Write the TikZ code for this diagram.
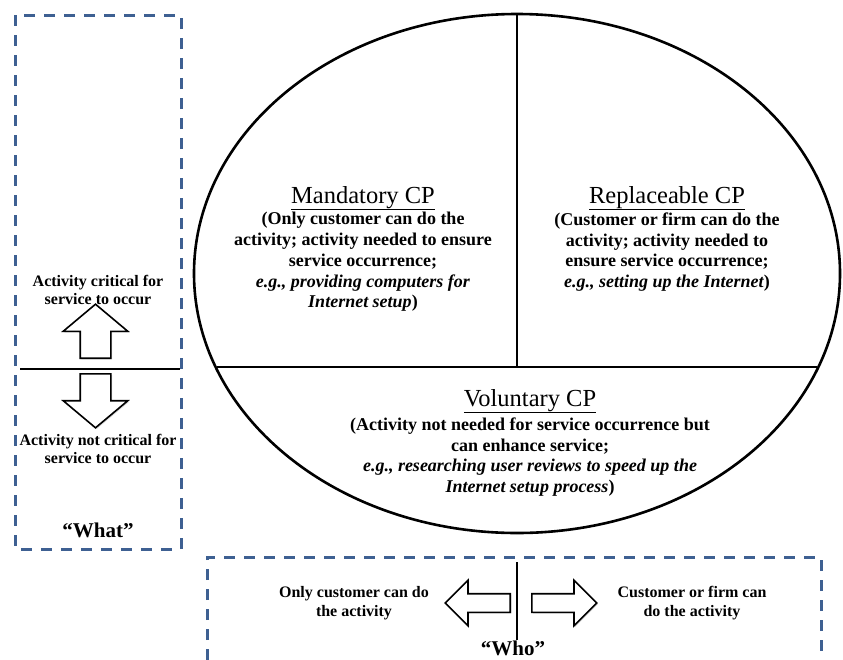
\documentclass[tikz,border=0pt]{standalone}
\usepackage{fontspec}
\setmainfont{Liberation Serif}
\usetikzlibrary{shapes.arrows,shadows,positioning}
\definecolor{dashblue}{RGB}{62,96,146}

\begin{document}
\begin{tikzpicture}[
  x=1pt, y=-1pt,
  framebox/.style={draw=dashblue, line width=3pt, dash pattern=on 11pt off 9pt},
  divider/.style={line width=2.6pt},
  thinline/.style={line width=1.1pt},
  cptitle/.style={font=\fontsize{24.5}{28}\selectfont, inner sep=0pt, anchor=base},
  cpbody/.style={font=\fontsize{18}{20.7}\selectfont\bfseries, align=center, inner sep=1pt},
  sidetext/.style={font=\fontsize{16}{17.5}\selectfont\bfseries, align=center, inner sep=1pt},
  whotext/.style={sidetext, font=\fontsize{16}{19}\selectfont\bfseries},
  dimlabel/.style={font=\fontsize{21}{24}\selectfont\bfseries, inner sep=1pt},
  blockarrow/.style={single arrow, draw=black, fill=white, line width=1.6pt, inner xsep=0pt, anchor=tail,
    drop shadow={opacity=0.3, shadow xshift=1.2pt, shadow yshift=-1.2pt}},
  bigarrow/.style={blockarrow, minimum height=54pt, inner ysep=14.5pt, single arrow head extend=17pt, single arrow tip angle=100},
  smallarrow/.style={blockarrow, minimum height=65pt, inner ysep=8.5pt, single arrow head extend=13.5pt, single arrow tip angle=90}
]
\path[use as bounding box] (0,0) rectangle (843,659);
\clip (0,0) rectangle (843,659);

% "What" frame
\draw[framebox] (15,15) rectangle (181,549);
\coordinate (whatW) at (20,369);
\coordinate (whatE) at (180,369);
\draw[thinline] (whatW) -- (whatE);
\node[bigarrow, rotate=90] (upArr) at (95.5,359) {};
\node[bigarrow, rotate=-90] (downArr) at (95.5,373) {};
\node[sidetext] (critText) at (98,290) {Activity critical for\\service to occur};
\node[sidetext] (notCritText) at (98,449) {Activity not critical for\\service to occur};
\node[dimlabel] (whatLabel) at (98,530) {“What”};

% ellipse of the three CP types
\draw[divider, fill=white, drop shadow={opacity=0.25, shadow xshift=1pt, shadow yshift=-1pt}] (517,273.5) ellipse [x radius=323, y radius=259.5];
\coordinate (ellTop) at (517,14);
\coordinate (chordMid) at (517,367);
\coordinate (chordW) at (217,367);
\coordinate (chordE) at (817,367);
\draw[divider] (ellTop) -- (chordMid);
\draw[divider] (chordW) -- (chordE);

\node[cptitle] (mandTitle) at (363,203) {\underline{Mandatory CP}};
\node[cpbody] (mandBody) at (363,262) {(Only customer can do the\\activity; activity needed to ensure\\service occurrence;\\\textit{e.g., providing computers for}\\\textit{Internet setup})};

\node[cptitle] (replTitle) at (667,203) {\underline{Replaceable CP}};
\node[cpbody] (replBody) at (667,252) {(Customer or firm can do the\\activity; activity needed to\\ensure service occurrence;\\\textit{e.g., setting up the Internet})};

\node[cptitle] (volTitle) at (530,406) {\underline{Voluntary CP}};
\node[cpbody] (volBody) at (530,457) {(Activity not needed for service occurrence but\\can enhance service;\\\textit{e.g., researching user reviews to speed up the}\\\textit{Internet setup process})};

% "Who" frame
\draw[framebox] (207,680) |- (821,557) -- (821,680);
\coordinate (whoTop) at (517,562);
\coordinate (whoBot) at (517,640);
\draw[thinline] (whoTop) -- (whoBot);
\node[smallarrow, rotate=180] (leftArr) at (511,603) {};
\node[smallarrow] (rightArr) at (531,603) {};
\node[whotext] (onlyText) at (354,603) {Only customer can do\\the activity};
\node[whotext] (firmText) at (692,603) {Customer or firm can\\do the activity};
\node[dimlabel] (whoLabel) at (513,648) {“Who”};

\end{tikzpicture}
\end{document}
